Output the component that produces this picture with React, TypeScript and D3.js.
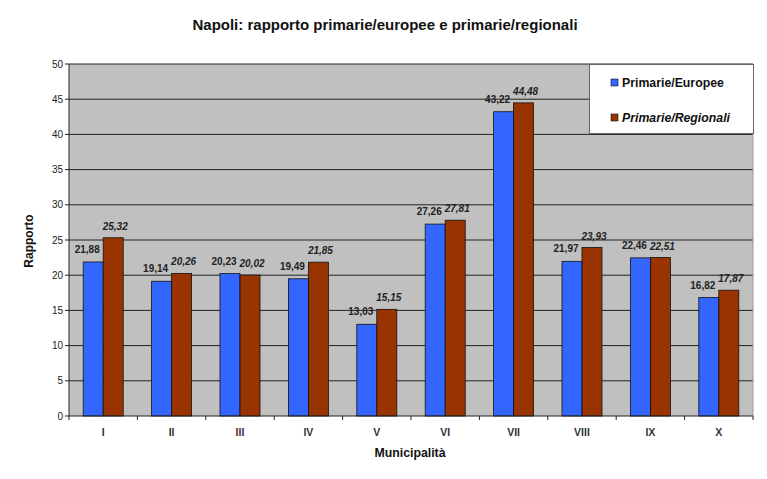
import React from "react";
import * as d3 from "d3";

const categories = ["I", "II", "III", "IV", "V", "VI", "VII", "VIII", "IX", "X"];
const europee = [21.88, 19.14, 20.23, 19.49, 13.03, 27.26, 43.22, 21.97, 22.46, 16.82];
const regionali = [25.32, 20.26, 20.02, 21.85, 15.15, 27.81, 44.48, 23.93, 22.51, 17.87];
const yTicks = [0, 5, 10, 15, 20, 25, 30, 35, 40, 45, 50];
const seriesNames = ["Primarie/Europee", "Primarie/Regionali"];

const W = 767, H = 479;
const left = 69, right = 753, top = 64, bottom = 416;
const font = "'Liberation Sans', Arial, sans-serif";
const blue = "#3366FF";
const brown = "#993300";

const fmt = (v: number) => v.toFixed(2).replace(".", ",");

export default function App() {
  const x = d3.scaleBand<string>().domain(categories).range([left, right]).paddingInner(0).paddingOuter(0);
  const y = d3.scaleLinear().domain([0, 50]).range([bottom, top]);
  const bw = 20;
  const bandW = x.bandwidth();

  return (
    <svg width={W} height={H} style={{ position: "absolute", left: 0, top: 0, background: "#fff" }} fontFamily={font}>
      <rect x={0} y={0} width={W} height={H} fill="#fff" />
      <text x={385} y={30} textAnchor="middle" fontSize={15} fontWeight="bold" fill="#111">
        Napoli: rapporto primarie/europee e primarie/regionali
      </text>
      <rect x={left} y={top} width={right - left} height={bottom - top} fill="#C0C0C0" />
      {yTicks.map((t) => (
        <g key={t}>
          {t > 0 && <line x1={left} x2={right} y1={y(t)} y2={y(t)} stroke="#222" strokeWidth={1} />}
          <line x1={left - 4} x2={left} y1={y(t)} y2={y(t)} stroke="#222" />
          <text x={left - 6} y={y(t) + 3.5} textAnchor="end" fontSize={10} fill="#222">{t}</text>
        </g>
      ))}
      <line x1={right} x2={right} y1={top} y2={bottom} stroke="#999" />
      {categories.map((c, i) => {
        const cx = (x(c) as number) + bandW / 2;
        const yb = y(europee[i]);
        const yr = y(regionali[i]);
        return (
          <g key={c}>
            <rect x={cx - bw} y={yb} width={bw} height={bottom - yb} fill={blue} stroke="#111" strokeWidth={0.8} />
            <rect x={cx} y={yr} width={bw} height={bottom - yr} fill={brown} stroke="#111" strokeWidth={0.8} />
            <text x={cx - bw / 2 - 6} y={yb - 9} textAnchor="middle" fontSize={10} fontWeight="bold" fill="#222">{fmt(europee[i])}</text>
            <text x={cx + bw / 2 + 2} y={yr - 8} textAnchor="middle" fontSize={10} fontWeight="bold" fontStyle="italic" fill="#222">{fmt(regionali[i])}</text>
            <text x={cx} y={436} textAnchor="middle" fontSize={10.5} fontWeight="bold" fill="#333">{c}</text>
          </g>
        );
      })}
      {categories.map((c, i) => (
        <line key={"t" + i} x1={(x(c) as number) + bandW} x2={(x(c) as number) + bandW} y1={bottom} y2={bottom + 4} stroke="#222" />
      ))}
      <line x1={left} x2={left} y1={top} y2={bottom + 4} stroke="#222" />
      <line x1={left} x2={right} y1={bottom} y2={bottom} stroke="#222" />
      <text x={410} y={457} textAnchor="middle" fontSize={12.3} fontWeight="bold" fill="#111">Municipalità</text>
      <text transform={`translate(33,241) rotate(-90)`} textAnchor="middle" fontSize={12} fontWeight="bold" fill="#111">Rapporto</text>
      <g>
        <rect x={589.5} y={64.5} width={164} height={69} fill="#fff" stroke="#666" />
        <rect x={611} y={79} width={7} height={7} fill={blue} stroke="#111" strokeWidth={0.6} />
        <text x={622} y={86.5} fontSize={12.3} fontWeight="bold" fill="#111">{seriesNames[0]}</text>
        <rect x={611} y={114} width={7} height={7} fill={brown} stroke="#111" strokeWidth={0.6} />
        <text x={622} y={121.5} fontSize={12.3} fontWeight="bold" fontStyle="italic" fill="#111">{seriesNames[1]}</text>
      </g>
    </svg>
  );
}
